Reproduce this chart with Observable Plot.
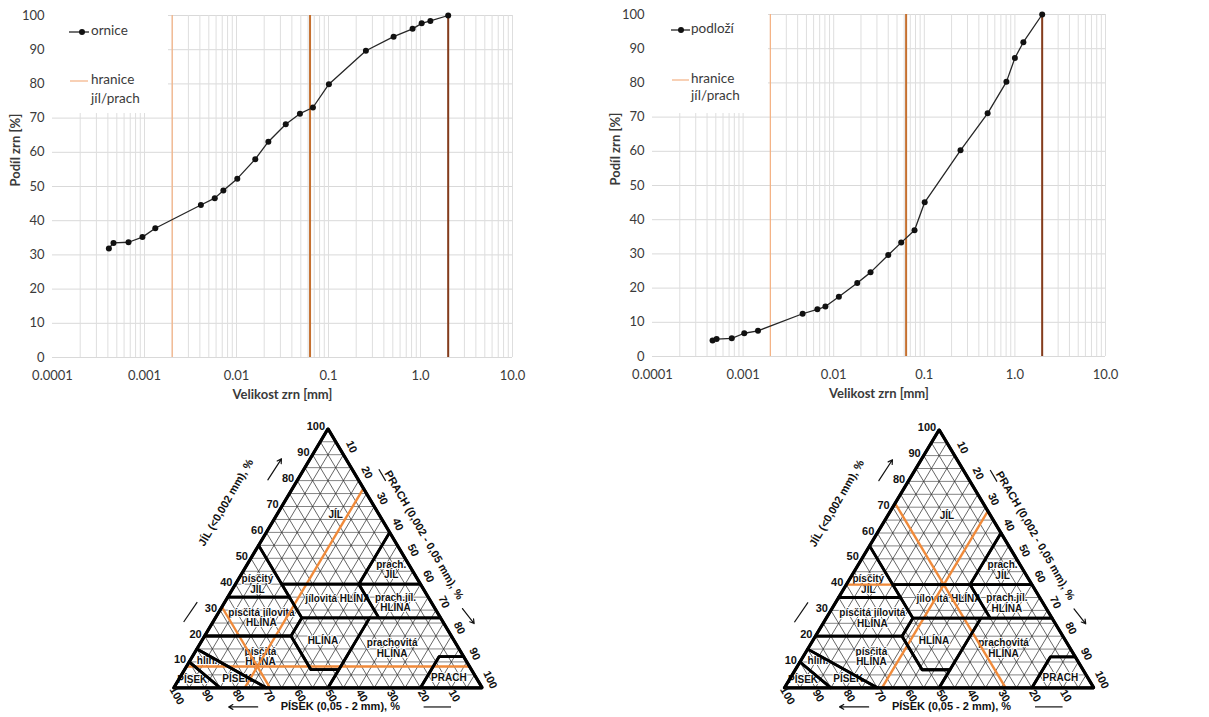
<!DOCTYPE html>
<html><head><meta charset="utf-8">
<script src="https://cdn.jsdelivr.net/npm/d3@7"></script>
<script src="https://cdn.jsdelivr.net/npm/@observablehq/plot@0.6"></script>
<style>
body{margin:0;background:#fff;width:1209px;height:717px;overflow:hidden;position:relative}
.panel{position:absolute}
.legend{position:absolute;background:#fff}
</style></head><body>
<div id="c1" class="panel" style="left:0;top:0"></div>
<div id="c2" class="panel" style="left:600px;top:0"></div>
<div id="t1" class="panel" style="left:130px;top:410px"></div>
<div id="t2" class="panel" style="left:740px;top:410px"></div>
<div id="l1" class="legend" style="left:52px;top:15px;width:116px;height:98px"></div>
<div id="l2" class="legend" style="left:652px;top:14px;width:116px;height:99px"></div>
<script>
// ---------- data ----------
const ornSize = [0.00041,0.00046,0.00067,0.00095,0.00131,0.0041,0.0058,0.0072,0.0102,0.016,0.0222,0.0343,0.0489,0.0677,0.101,0.255,0.51,0.82,1.03,1.28,2.0];
const ornPct  = [31.9,33.5,33.7,35.2,37.8,44.6,46.6,48.8,52.3,58.0,63.1,68.2,71.3,73.1,79.9,89.7,93.8,96.1,97.7,98.4,100];
const podSize = [0.00046,0.00051,0.00075,0.00103,0.00146,0.00454,0.0066,0.0081,0.0114,0.0182,0.0255,0.040,0.0556,0.078,0.101,0.251,0.50,0.806,1.0,1.24,2.0];
const podPct  = [4.7,5.1,5.3,6.8,7.5,12.5,13.8,14.6,17.5,21.5,24.6,29.7,33.3,36.9,45.1,60.3,71.1,80.3,87.3,91.9,100];
const xTicks = [0.0001,0.001,0.01,0.1,1,10];
const xTickLabels = ["0.0001","0.001","0.01","0.1","1.0","10.0"];
const yTicks = [0,10,20,30,40,50,60,70,80,90,100];
const boundarySizes = [0.002,0.063,2.0];
const boundaryColors = ["#F4B183","#C5702F","#843C1C"];
const boundaryWidths = [1.2,2,2];

// soil texture classes: polygons as [sand, clay] (silt = 100 - sand - clay)
const classNames = ["JÍL","písčitý JÍL","prach. JÍL","jílovitá HLÍNA","písčitá jílovitá HLÍNA","prach.jíl. HLÍNA","HLÍNA","prachovitá HLÍNA","PRACH","písčitá HLÍNA","hlin. PÍSEK","PÍSEK"];
const classPolys = [
  [[45,55],[45,40],[20,40],[0,60],[0,100]],
  [[65,35],[45,35],[45,55]],
  [[20,40],[0,40],[0,60]],
  [[45,27],[20,27],[20,40],[45,40]],
  [[80,20],[52,20],[45,27],[45,35],[65,35]],
  [[20,27],[0,27],[0,40],[20,40]],
  [[43,7],[23,27],[45,27],[52,20],[52,7]],
  [[50,0],[20,0],[8,12],[0,12],[0,27],[23,27],[43,7]],
  [[20,0],[0,0],[0,12],[8,12]],
  [[85,15],[70,0],[50,0],[43,7],[52,7],[52,20],[80,20]],
  [[85,0],[70,0],[85,15],[90,10]],
  [[100,0],[85,0],[90,10]]
];
const labelTexts = ["JÍL","písčitý\nJÍL","prach.\nJÍL","jílovitá HLÍNA","písčitá jílovitá\nHLÍNA","prach.jíl.\nHLÍNA","HLÍNA","prachovitá\nHLÍNA","PRACH","písčitá\nHLÍNA","hlin.","PÍSEK","PÍSEK"];
const labelSand = [14.05,52.85,6.65,29.55,58.05,11.65,42.5,21.55,8.87,65.85,83.9,77.65,92.45];
const labelClay = [66.9,40.1,45.7,34.5,27.1,32.9,18.3,15.3,3.86,12.1,10.6,3.5,3.1];
const clayTicks = [10,20,30,40,50,60,70,80,90,100];
const siltTicks = [10,20,30,40,50,60,70,80,90,100];
const sandTicks = [100,90,80,70,60,50,40,30,20,10];
const sampleLeft  = {sand:68.8, clay:8.2, silt:23.0};
const sampleRight = {sand:28.5, clay:40, silt:31.5};

// ---------- grain size charts ----------
const minorX = [];
for (let k=-4;k<=0;k++) for (let m=1;m<=9;m++) { const v=m*Math.pow(10,k); if (!(k===-4&&m===1)) minorX.push(+v.toPrecision(3)); }
minorX.push(10);

function grainChart(sizes,pcts,w,ml,mr,mt,mb){
  const data = sizes.map((d,i)=>({size:d,pct:pcts[i]}));
  return Plot.plot({
    width:w,height:405,marginLeft:ml,marginRight:mr,marginTop:mt,marginBottom:mb,
    x:{type:"log",domain:[1e-4,10]},
    y:{domain:[0,100]},
    style:{fontFamily:"Lato, sans-serif",fontSize:"13px",color:"#3a3a3a",background:"transparent",overflow:"visible"},
    marks:[
      Plot.ruleY(yTicks,{stroke:"#d9d9d9",strokeWidth:1}),
      Plot.ruleX(minorX,{stroke:"#dedede",strokeWidth:1}),
      ...boundarySizes.map((b,i)=>Plot.ruleX([b],{stroke:boundaryColors[i],strokeWidth:boundaryWidths[i]})),
      Plot.line(data,{x:"size",y:"pct",stroke:"#262626",strokeWidth:1.3}),
      Plot.dot(data,{x:"size",y:"pct",r:3,fill:"#111",stroke:null}),
      Plot.axisX(xTicks,{tickSize:0,tickPadding:13,tickFormat:(d)=>xTickLabels[xTicks.indexOf(d)],label:null}),
      Plot.axisY(yTicks,{tickSize:0,tickPadding:8,label:null}),
      Plot.text(["Velikost zrn [mm]"],{frameAnchor:"bottom",dy:41,fontWeight:"bold",fontSize:13,fill:"#3a3a3a"}),
      Plot.text(["Podíl zrn [%]"],{frameAnchor:"left",dx:-37,rotate:-90,fontWeight:"bold",fontSize:13,fill:"#3a3a3a"})
    ]
  });
}
document.getElementById("c1").append(grainChart(ornSize,ornPct,600,52,88,15,48));
document.getElementById("c2").append(grainChart(podSize,podPct,609,52,104,14,49));

function legend(id,name,lx1,lx2,mx,ty,oy1,oy2){
  const el=document.getElementById(id);
  el.innerHTML=`<svg width="116" height="99" style="font-family:Lato,sans-serif;font-size:13.5px;fill:#3a3a3a">
  <line x1="${lx1}" x2="${lx2}" y1="${ty}" y2="${ty}" stroke="#262626" stroke-width="1.3"/>
  <circle cx="${mx}" cy="${ty}" r="3" fill="#111"/>
  <text x="39" y="${ty}" dominant-baseline="middle">${name}</text>
  <line x1="${lx1+1}" x2="${lx2-1}" y1="${oy1}" y2="${oy1}" stroke="${boundaryColors[0]}" stroke-width="1.2"/>
  <text x="39" y="${oy1}" dominant-baseline="middle">hranice</text>
  <text x="39" y="${oy2}" dominant-baseline="middle">jíl/prach</text></svg>`;
}
legend("l1","ornice",17,37,30,17,66,85);
legend("l2","podloží",19,38,29,16,66,83);

// ---------- texture triangles ----------
function triChart(sample,x0,x1,yb,yt){
  const kx=100/(x1-x0), ky=100/(yb-yt);
  const P=(sand,clay)=>({x:(100-sand-clay)+clay/2,y:clay});
  const off=(p,dx,dy)=>({x:p.x+dx*kx,y:p.y-dy*ky});
  const grid=[];
  for(const k of d3.range(5,100,5)){
    grid.push({a:P(100-k,k),b:P(0,k),h:1});
    grid.push({a:P(k,0),b:P(k,100-k),h:0});
    grid.push({a:P(100-k,0),b:P(0,100-k),h:0});
  }
  const polys=[];
  classPolys.forEach((poly,i)=>{[...poly,poly[0]].forEach(([s,c])=>polys.push({...P(s,c),name:classNames[i]}));});
  const outline=[P(100,0),P(0,0),P(0,100),P(100,0)];
  const orange=[
    {a:P(100-sample.clay,sample.clay),b:P(0,sample.clay)},
    {a:P(sample.sand,0),b:P(sample.sand,100-sample.sand)},
    {a:P(100-sample.silt,0),b:P(0,100-sample.silt)}
  ];
  const labels=labelTexts.map((t,i)=>({t,...P(labelSand[i],labelClay[i])}));
  const clayL=clayTicks.map(c=>({t:String(c),...off(P(100-c,c),-3,-2)}));
  const siltL=siltTicks.map(s=>({t:String(s),...off(P(0,100-s),8,-8)}));
  const sandL=sandTicks.map(s=>({t:String(s),...off(P(s,0),3,8)}));
  const lnk=(arr,o)=>Plot.link(arr,{x1:d=>d.a.x,y1:d=>d.a.y,x2:d=>d.b.x,y2:d=>d.b.y,...o});
  const tf="Liberation Sans, Arial, sans-serif";
  const pr=off({x:79.8,y:58},4,-2.5);
  return Plot.plot({
    width:420,height:307,
    x:{domain:[0,100],range:[x0,x1],axis:null},
    y:{domain:[0,100],range:[yb,yt],axis:null},
    style:{fontFamily:tf,background:"transparent",overflow:"visible"},
    marks:[
      lnk(grid.filter(d=>d.h),{stroke:"#666",strokeWidth:0.8}),
      lnk(grid.filter(d=>!d.h),{stroke:"#333",strokeWidth:0.75}),
      Plot.text(labels,{x:"x",y:"y",text:"t",fontWeight:"bold",fontSize:10,fill:"#111",stroke:"white",strokeWidth:2,lineHeight:1.05}),
      lnk(orange,{stroke:"#F08A3A",strokeWidth:2.4}),
      Plot.line(polys,{x:"x",y:"y",z:"name",stroke:"#000",strokeWidth:2.8,strokeLinejoin:"round"}),
      Plot.line(outline,{x:"x",y:"y",stroke:"#000",strokeWidth:3.2,strokeLinejoin:"miter"}),
      Plot.text(clayL,{x:"x",y:"y",text:"t",textAnchor:"end",fontWeight:"bold",fontSize:11,fill:"#111"}),
      Plot.text(siltL,{x:"x",y:"y",text:"t",rotate:65,fontWeight:"bold",fontSize:11,fill:"#111"}),
      Plot.text(sandL,{x:"x",y:"y",text:"t",rotate:60,fontWeight:"bold",fontSize:11,fill:"#111"}),
      Plot.text([{t:"JÍL (<0,002 mm), %",x:16.9,y:71.5}],{x:"x",y:"y",text:"t",rotate:-60,fontWeight:"bold",fontSize:11,fill:"#111"}),
      Plot.text([{t:"PRACH (0,002 - 0,05 mm), %",...pr}],{x:"x",y:"y",text:"t",rotate:60,fontWeight:"bold",fontSize:11,fill:"#111"}),
      Plot.text([{t:"PÍSEK (0,05 - 2 mm), %",x:54,y:-7.4}],{x:"x",y:"y",text:"t",fontWeight:"bold",fontSize:11,fill:"#111"}),
      Plot.arrow([{x1:30.5,y1:80.3,x2:34.9,y2:88.4},{x1:93.6,y1:30.6,x2:97.4,y2:24.8},{x1:27.2,y1:-7.4,x2:17.8,y2:-7.4}],{x1:"x1",y1:"y1",x2:"x2",y2:"y2",stroke:"#111",strokeWidth:1.2,headLength:6}),
      Plot.link([{x1:3.2,y1:25.4,x2:7.6,y2:33.1},{x1:66.5,y1:84.4,x2:68.7,y2:79.9},{x1:81,y1:-7.4,x2:89.9,y2:-7.4}],{x1:"x1",y1:"y1",x2:"x2",y2:"y2",stroke:"#111",strokeWidth:1.2})
    ]
  });
}
document.getElementById("t1").append(triChart(sampleLeft,43.3,351.7,277.3,18.3));
document.getElementById("t2").append(triChart(sampleRight,44,353.3,277.3,19.3));
</script></body></html>
